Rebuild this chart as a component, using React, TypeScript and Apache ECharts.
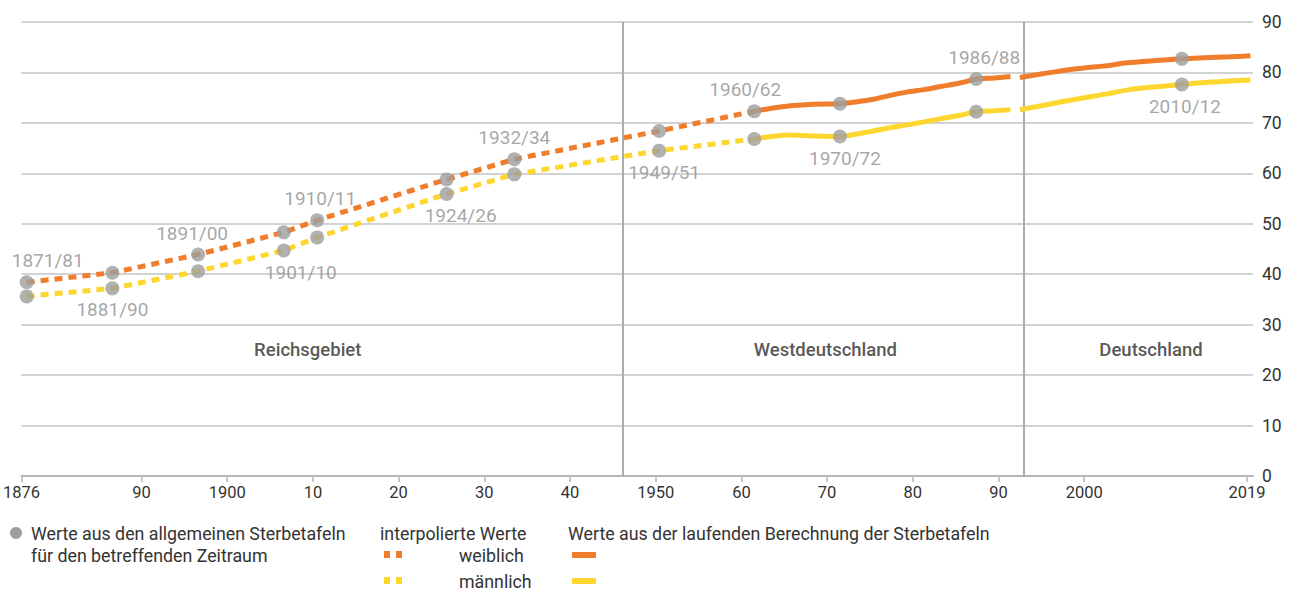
import React, { useEffect, useRef } from "react";
import * as echarts from "echarts";

// Periods of the general life tables (dots)
const periods = ["1871/81", "1881/90", "1891/00", "1901/10", "1910/11", "1924/26", "1932/34", "1949/51", "1960/62", "1970/72", "1986/88", "2010/12"];
const periodYear = [1876.6, 1886.6, 1896.6, 1906.6, 1910.5, 1925.6, 1933.5, 1950.4, 1961.5, 1971.5, 1987.4, 2011.4];
const femaleDots = [38.4, 40.3, 43.9, 48.3, 50.7, 58.8, 62.8, 68.4, 72.3, 73.8, 78.7, 82.7];
const maleDots = [35.6, 37.2, 40.6, 44.7, 47.3, 55.9, 59.8, 64.5, 66.8, 67.3, 72.2, 77.6];

// Running calculation (solid lines)
const westYears = [1961.5, 1963.5, 1965.7, 1968.4, 1971.5, 1973.5, 1975.4, 1977.5, 1979.3, 1981.3, 1983.2, 1985.5, 1987.4, 1989.5, 1991.4];
const westFemale = [72.3, 72.9, 73.4, 73.7, 73.8, 74.2, 74.7, 75.5, 76.1, 76.6, 77.2, 77.9, 78.7, 78.9, 79.2];
const westMale = [66.8, 67.3, 67.6, 67.4, 67.3, 67.8, 68.4, 69.1, 69.6, 70.2, 70.8, 71.5, 72.2, 72.4, 72.6];
const gerYears = [1992.5, 1995, 1998, 2000, 2002.5, 2005, 2008, 2011.4, 2014, 2017, 2019.4];
const gerFemale = [79.0, 79.7, 80.5, 80.9, 81.3, 81.9, 82.3, 82.7, 82.9, 83.1, 83.3];
const gerMale = [72.6, 73.4, 74.4, 75.0, 75.7, 76.5, 77.1, 77.6, 78.0, 78.3, 78.5];

// Territory borders and names
const borderYears = [1946.1, 1992.9];
const regions = ["Reichsgebiet", "Westdeutschland", "Deutschland"];
const regionYear = [1909.4, 1969.8, 2007.8];
const regionValue = 25;

// X axis tick labels
const xTicks = [1876, 1890, 1900, 1910, 1920, 1930, 1940, 1950, 1960, 1970, 1980, 1990, 2000, 2019];
const xTickLabels = ["1876", "90", "1900", "10", "20", "30", "40", "1950", "60", "70", "80", "90", "2000", "2019"];

// Label layout per dot (which dot carries the label, and horizontal nudge)
const labelOnFemale = [true, false, true, false, true, false, true, false, true, false, true, false];
const labelDx = [21, 0, -6, 17, 3, 14, 0, 5, -9, 5, 8, 3];

const ORANGE = "#f07d2c";
const YELLOW = "#fdd72f";
const DOT = "#9d9d9d";
const LABEL = "#8f8f8f";
const TEXT = "#333333";
const FONT = "Roboto, 'Open Sans', sans-serif";

export default function App() {
  const ref = useRef<HTMLDivElement>(null);
  useEffect(() => {
    if (!ref.current) return;
    const chart = echarts.init(ref.current, null, { renderer: "svg" });
    const dash = [8, 6];
    const interpCount = 9; // up to 1960/62
    const dotLabel = (i: number, top: boolean) => ({
      show: true,
      formatter: periods[i],
      position: top ? "top" : "bottom",
      distance: 5,
      offset: [labelDx[i], 0],
      color: LABEL,
      fontSize: 19,
      fontFamily: FONT,
    });
    const femaleDotData = periods.map((_, i) => ({
      value: [periodYear[i], femaleDots[i]],
      label: labelOnFemale[i] ? dotLabel(i, true) : { show: false },
    }));
    const maleDotData = periods.map((_, i) => ({
      value: [periodYear[i], maleDots[i]],
      label: !labelOnFemale[i] ? dotLabel(i, false) : { show: false },
    }));
    const lineBase = { type: "line", symbol: "none", silent: true };
    const legendFont = `17.8px ${FONT}`;
    const option: any = {
      animation: false,
      grid: { left: 21, right: 43, top: 22, bottom: 115 },
      xAxis: {
        type: "value",
        min: 1876,
        max: 2019.7,
        splitLine: { show: false },
        axisLine: { show: true, lineStyle: { color: "#b5b5b5", width: 2 } },
        axisTick: { show: true, length: 6, lineStyle: { color: "#b5b5b5", width: 1.5 }, customValues: xTicks },
        axisLabel: {
          customValues: xTicks,
          formatter: (v: number) => xTickLabels[xTicks.indexOf(v)] ?? "",
          color: TEXT,
          fontSize: 16.5,
          fontFamily: FONT,
          margin: 8,
        },
      },
      yAxis: {
        type: "value",
        position: "right",
        min: 0,
        max: 90,
        interval: 10,
        axisLine: { show: false },
        axisTick: { show: false },
        splitLine: { lineStyle: { color: "#d2d2d2", width: 2 } },
        axisLabel: { color: TEXT, fontSize: 17.5, fontFamily: FONT, margin: 9 },
      },
      graphic: [
        { type: "circle", shape: { cx: 16, cy: 533, r: 6 }, style: { fill: DOT } },
        { type: "text", x: 31, y: 533, style: { text: "Werte aus den allgemeinen Sterbetafeln", fill: TEXT, font: legendFont, verticalAlign: "middle" } },
        { type: "text", x: 31, y: 555, style: { text: "für den betreffenden Zeitraum", fill: TEXT, font: legendFont, verticalAlign: "middle" } },
        { type: "text", x: 380, y: 533, style: { text: "interpolierte Werte", fill: TEXT, font: legendFont, verticalAlign: "middle" } },
        { type: "rect", shape: { x: 384, y: 551, width: 6, height: 7 }, style: { fill: ORANGE } },
        { type: "rect", shape: { x: 396, y: 551, width: 6, height: 7 }, style: { fill: ORANGE } },
        { type: "text", x: 459, y: 555, style: { text: "weiblich", fill: TEXT, font: legendFont, verticalAlign: "middle" } },
        { type: "rect", shape: { x: 384, y: 577, width: 6, height: 7 }, style: { fill: YELLOW } },
        { type: "rect", shape: { x: 396, y: 577, width: 6, height: 7 }, style: { fill: YELLOW } },
        { type: "text", x: 459, y: 581, style: { text: "männlich", fill: TEXT, font: legendFont, verticalAlign: "middle" } },
        { type: "text", x: 568, y: 533, style: { text: "Werte aus der laufenden Berechnung der Sterbetafeln", fill: TEXT, font: legendFont, verticalAlign: "middle" } },
        { type: "rect", shape: { x: 572, y: 552, width: 24, height: 6 }, style: { fill: ORANGE } },
        { type: "rect", shape: { x: 572, y: 578, width: 24, height: 6 }, style: { fill: YELLOW } },
      ],
      series: [
        {
          ...lineBase,
          name: "interp weiblich",
          data: periodYear.slice(0, interpCount).map((x, i) => [x, femaleDots[i]]),
          lineStyle: { color: ORANGE, width: 5, type: dash, cap: "butt" },
          z: 3,
          markLine: {
            silent: true,
            symbol: "none",
            label: { show: false },
            lineStyle: { color: "#acacac", width: 2, type: "solid" },
            data: borderYears.map((x) => ({ xAxis: x })),
            z: 1,
          },
        },
        {
          ...lineBase,
          name: "interp männlich",
          data: periodYear.slice(0, interpCount).map((x, i) => [x, maleDots[i]]),
          lineStyle: { color: YELLOW, width: 5, type: dash, cap: "butt" },
          z: 3,
        },
        { ...lineBase, name: "west w", smooth: 0.3, data: westYears.map((x, i) => [x, westFemale[i]]), lineStyle: { color: ORANGE, width: 5 }, z: 4 },
        { ...lineBase, name: "west m", smooth: 0.3, data: westYears.map((x, i) => [x, westMale[i]]), lineStyle: { color: YELLOW, width: 5 }, z: 4 },
        { ...lineBase, name: "de w", smooth: 0.3, data: gerYears.map((x, i) => [x, gerFemale[i]]), lineStyle: { color: ORANGE, width: 5 }, z: 4 },
        { ...lineBase, name: "de m", smooth: 0.3, data: gerYears.map((x, i) => [x, gerMale[i]]), lineStyle: { color: YELLOW, width: 5 }, z: 4 },
        {
          type: "scatter",
          name: "dots w",
          symbolSize: 14,
          itemStyle: { color: DOT },
          data: femaleDotData,
          z: 6,
          silent: true,
        },
        {
          type: "scatter",
          name: "dots m",
          symbolSize: 14,
          itemStyle: { color: DOT },
          data: maleDotData,
          z: 6,
          silent: true,
        },
        {
          type: "scatter",
          name: "regions",
          symbolSize: 0,
          silent: true,
          data: regions.map((r, i) => ({ value: [regionYear[i], regionValue], name: r })),
          label: {
            show: true,
            position: "inside",
            formatter: (p: any) => p.name,
            color: "#2b2b2b",
            fontSize: 18.5,
            fontWeight: 500,
            fontFamily: FONT,
          },
          z: 5,
        },
      ],
    };
    chart.setOption(option);
    return () => chart.dispose();
  }, []);
  return <div ref={ref} style={{ width: 1296, height: 591, position: "absolute", left: 0, top: 0 }} />;
}
